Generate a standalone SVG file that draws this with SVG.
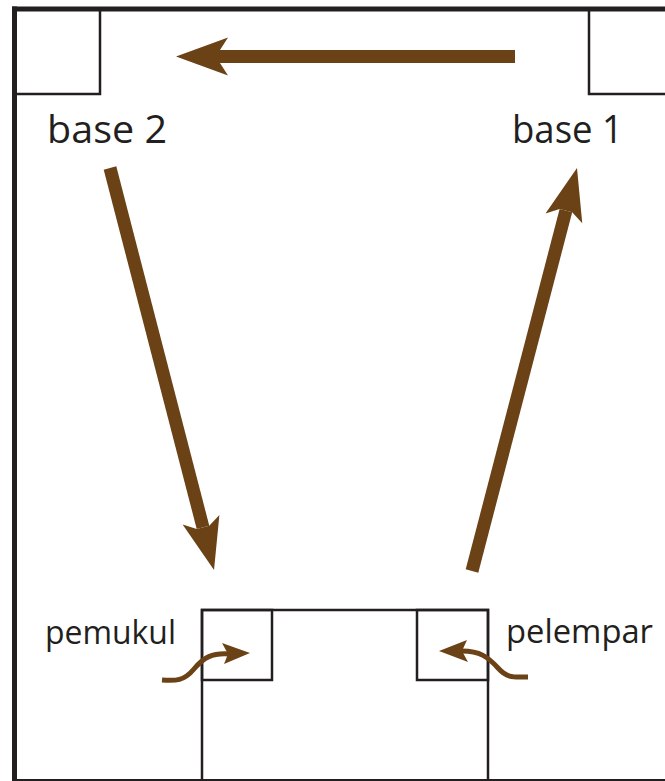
<svg xmlns="http://www.w3.org/2000/svg" width="665" height="781" viewBox="0 0 665 781">
  <style>
    .frame { fill: none; stroke: #231f20; }
    .lbl { font-family: "Open Sans", "Noto Sans", sans-serif; fill: #231f20; }
    .big { fill: none; stroke: #6b4216; stroke-width: 13; stroke-linecap: butt; }
    .small { fill: none; stroke: #6b4216; stroke-width: 5; stroke-linecap: butt; }
    .head { fill: #6b4216; }
  </style>
  <defs>
    <marker id="bighead" markerUnits="userSpaceOnUse" orient="auto" refX="0" refY="0" markerWidth="60" markerHeight="40" overflow="visible">
      <path d="M44,0 L-8,-19 L0,-6.5 L0,6.5 L-8,19 Z" fill="#6b4216"/>
    </marker>
  </defs>

  <g id="field">
    <line class="frame" x1="12" y1="9" x2="665" y2="9" stroke-width="5"/>
    <line class="frame" x1="14.5" y1="6.5" x2="14.5" y2="781" stroke-width="5"/>
    <line class="frame" x1="14" y1="780" x2="665" y2="780" stroke-width="2"/>
  </g>

  <g id="base2">
    <rect class="frame" x="14.5" y="9" width="85.5" height="85" stroke-width="2.5"/>
    <text class="lbl" x="47" y="143" font-size="39" textLength="120" lengthAdjust="spacingAndGlyphs">base 2</text>
  </g>

  <g id="base1">
    <rect class="frame" x="589" y="9" width="80" height="85" stroke-width="2.5"/>
    <text class="lbl" x="512" y="143" font-size="39" textLength="111" lengthAdjust="spacingAndGlyphs">base 1</text>
  </g>

  <g id="home">
    <rect class="frame" x="202" y="610" width="286" height="175" stroke-width="2.5"/>
  </g>

  <g id="pemukul">
    <rect class="frame" x="202" y="610" width="70" height="70" stroke-width="2.5"/>
    <text class="lbl" x="45" y="644" font-size="32" textLength="131" lengthAdjust="spacingAndGlyphs">pemukul</text>
  </g>

  <g id="pelempar">
    <rect class="frame" x="417" y="610" width="71" height="70" stroke-width="2.5"/>
    <text class="lbl" x="506" y="643" font-size="32" textLength="147" lengthAdjust="spacingAndGlyphs">pelempar</text>
  </g>

  <g id="connectors">
    <line class="big" x1="515" y1="56.5" x2="220" y2="56.5" marker-end="url(#bighead)"/>
    <line class="big" x1="110" y1="168" x2="203" y2="527.4" marker-end="url(#bighead)"/>
    <line class="big" x1="472" y1="571" x2="565.9" y2="210.6" marker-end="url(#bighead)"/>

    <path class="small" d="M162,680 C176,681 184,681 194,669 C204,657 212,653 229,654"/>
    <polygon class="head" points="250,653 222,643 228,654 224,664"/>

    <path class="small" d="M528,677 C514,677 508,679 498,668 C488,657 480,651 462,651"/>
    <polygon class="head" points="439,651 467,640 462,651 468,662"/>
  </g>
</svg>
